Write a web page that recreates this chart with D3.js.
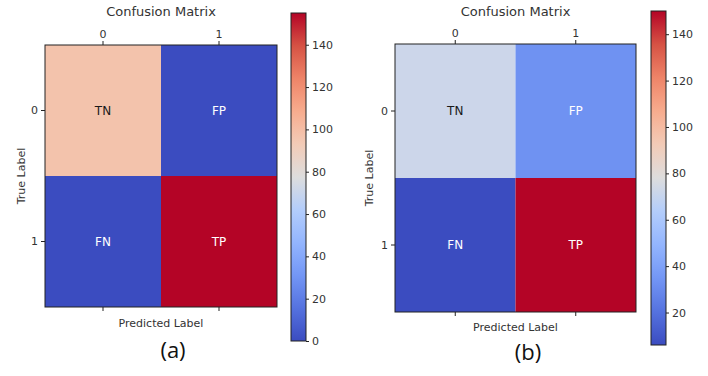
<!DOCTYPE html>
<html>
<head>
<meta charset="utf-8">
<script src="https://cdn.jsdelivr.net/npm/d3@7"></script>
<style>
  html, body { margin: 0; padding: 0; background: #fff; }
  svg { display: block; }
  text { font-family: "DejaVu Sans", sans-serif; fill: #333; }
  .caption { font-family: "Open Sans", "Noto Sans", sans-serif; fill: #111; }
</style>
</head>
<body>
<svg id="chart" width="708" height="376"></svg>
<script>
// class names on both axes
var classes = ['0', '1']
// text written in each cell
var cellLabels = [['TN', 'FP'], ['FN', 'TP']]
// matrix values
var valuesA = [[97, 0], [0, 155]]
var valuesB = [[72, 33], [6, 150]]
var captions = ['(a)', '(b)']

// matplotlib coolwarm, sampled every 0.1
var coolwarm = ['#3b4cc0', '#5572df', '#7396f5', '#93b5fe', '#b3cdfb', '#dddddd',
                '#f2cbb7', '#f7ac8e', '#ee8468', '#d65244', '#b40426']

var svg = d3.select('#chart')

// layout of each panel (px)
var panels = [
  {values: valuesA, caption: captions[0], id: 'a',
   box: {x0: 45, x1: 277, y0: 45, y1: 307},
   cb: {x: 291, w: 15, y0: 13, y1: 341},
   titleY: 16, ylabX: 25, xlabY: 327, capX: 173, capY: 358},
  {values: valuesB, caption: captions[1], id: 'b',
   box: {x0: 395, x1: 636, y0: 44, y1: 312},
   cb: {x: 651, w: 15, y0: 11, y1: 345},
   titleY: 16, ylabX: 373, xlabY: 331, capX: 528, capY: 360}
]

panels.forEach(function(p){ drawPanel(p) })

function drawPanel(p){
  var g = svg.append('g').attr('class', 'panel-' + p.id)
  var box = p.box
  var flat = d3.merge(p.values)
  var ext = d3.extent(flat)

  var color = d3.scaleSequential(d3.piecewise(d3.interpolateRgb, coolwarm)).domain(ext)

  var x = d3.scaleBand().domain(classes).range([box.x0, box.x1])
  var y = d3.scaleBand().domain(classes).range([box.y0, box.y1])

  //cells
  var cells = []
  classes.forEach(function(r, i){
    classes.forEach(function(c, j){
      cells.push({row: r, col: c, v: p.values[i][j], label: cellLabels[i][j]})
    })
  })

  g.selectAll('.cell')
    .data(cells)
    .enter()
    .append('rect')
    .attr('class', 'cell')
    .attr('x', function(d){ return x(d.col) })
    .attr('y', function(d){ return y(d.row) })
    .attr('width', x.bandwidth())
    .attr('height', y.bandwidth())
    .attr('fill', function(d){ return color(d.v) })

  g.selectAll('.cell-text')
    .data(cells)
    .enter()
    .append('text')
    .attr('class', 'cell-text')
    .attr('x', function(d){ return x(d.col) + x.bandwidth() / 2 })
    .attr('y', function(d){ return y(d.row) + y.bandwidth() / 2 + 4 })
    .attr('text-anchor', 'middle')
    .style('font-size', '12px')
    .style('fill', function(d){
      return d3.lab(color(d.v)).l > 65 ? '#1a1a1a' : '#fff'
    })
    .text(function(d){ return d.label })

  // frame
  g.append('rect')
    .attr('x', box.x0).attr('y', box.y0)
    .attr('width', box.x1 - box.x0).attr('height', box.y1 - box.y0)
    .attr('fill', 'none').attr('stroke', '#222').attr('stroke-width', 1)

  // axes: labels on top, ticks top and bottom, left
  var topAxis = g.append('g')
    .attr('transform', 'translate(0,' + box.y0 + ')')
    .call(d3.axisTop(x).tickSizeOuter(0).tickSizeInner(4).tickPadding(3))
  var bottomAxis = g.append('g')
    .attr('transform', 'translate(0,' + box.y1 + ')')
    .call(d3.axisBottom(x).tickSizeOuter(0).tickSizeInner(4).tickFormat(''))
  var leftAxis = g.append('g')
    .attr('transform', 'translate(' + box.x0 + ',0)')
    .call(d3.axisLeft(y).tickSizeOuter(0).tickSizeInner(4).tickPadding(3))

  ;[topAxis, bottomAxis, leftAxis].forEach(function(a){
    a.select('.domain').remove()
    a.selectAll('line').attr('stroke', '#222')
    a.selectAll('text').style('font-size', '11px').style('font-family', '"DejaVu Sans", sans-serif').attr('fill', '#333')
  })

  // titles
  var cx = (box.x0 + box.x1) / 2
  g.append('text')
    .attr('x', cx).attr('y', p.titleY)
    .attr('text-anchor', 'middle')
    .style('font-size', '13px')
    .text('Confusion Matrix')

  g.append('text')
    .attr('x', cx).attr('y', p.xlabY)
    .attr('text-anchor', 'middle')
    .style('font-size', '11px')
    .text('Predicted Label')

  var cy = (box.y0 + box.y1) / 2
  g.append('text')
    .attr('transform', 'translate(' + p.ylabX + ',' + cy + ') rotate(-90)')
    .attr('text-anchor', 'middle')
    .style('font-size', '11px')
    .text('True Label')

  // colour bar
  var cb = p.cb
  var gradId = 'grad-' + p.id
  var grad = svg.append('defs').append('linearGradient')
    .attr('id', gradId)
    .attr('x1', 0).attr('y1', 1).attr('x2', 0).attr('y2', 0)
  d3.range(0, 1.0001, 0.05).forEach(function(t){
    grad.append('stop')
      .attr('offset', t)
      .attr('stop-color', color(ext[0] + t * (ext[1] - ext[0])))
  })

  g.append('rect')
    .attr('x', cb.x).attr('y', cb.y0)
    .attr('width', cb.w).attr('height', cb.y1 - cb.y0)
    .attr('fill', 'url(#' + gradId + ')')
    .attr('stroke', '#222').attr('stroke-width', 1)

  var cbScale = d3.scaleLinear().domain(ext).range([cb.y1, cb.y0])
  var cbAxis = g.append('g')
    .attr('transform', 'translate(' + (cb.x + cb.w) + ',0)')
    .call(d3.axisRight(cbScale).ticks(8).tickSizeOuter(0).tickSizeInner(3).tickPadding(3))
  cbAxis.select('.domain').remove()
  cbAxis.selectAll('line').attr('stroke', '#222')
  cbAxis.selectAll('text').style('font-size', '11px').style('font-family', '"DejaVu Sans", sans-serif').attr('fill', '#333')

  // panel caption
  svg.append('text')
    .attr('class', 'caption')
    .attr('x', p.capX).attr('y', p.capY)
    .attr('text-anchor', 'middle')
    .style('font-size', '22px')
    .text(p.caption)
}
</script>
</body>
</html>
